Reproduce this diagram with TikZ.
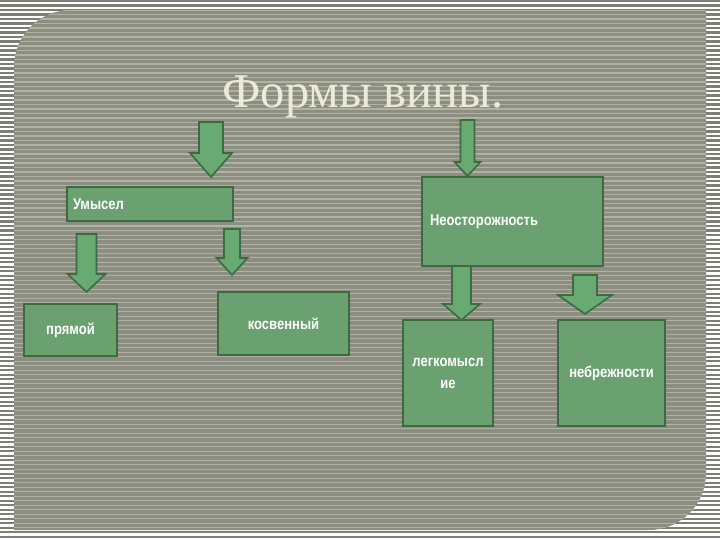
\documentclass[tikz,border=0pt]{standalone}
\usepackage{fontspec}
\setmainfont{Liberation Serif}
\newfontfamily\boxfont[FakeStretch=0.84]{Liberation Sans Bold}
\definecolor{stripedark}{HTML}{7E7F74}
\definecolor{panelgray}{HTML}{8D8E82}
\definecolor{panellight}{HTML}{B2B2A4}
\definecolor{boxgreen}{HTML}{6BA070}
\definecolor{boxedge}{HTML}{3C6A42}
\definecolor{arrgreen}{HTML}{69AA72}
\definecolor{titlecol}{HTML}{ECEBDA}
% block arrow: centre x, top, start of head, tip, half shaft, half head
\newcommand{\blockdown}[6]{%
  \filldraw[arrgreen, draw=boxedge, line width=1.6, line join=miter]
    (#1-#5,#2) -- (#1+#5,#2) -- (#1+#5,#3) -- (#1+#6,#3) --
    (#1,#4) -- (#1-#6,#3) -- (#1-#5,#3) -- cycle;
}
\begin{document}
\begin{tikzpicture}[x=1pt, y=-1pt,
    box/.style={draw=boxedge, fill=boxgreen, line width=2,
      font=\boxfont\fontsize{15.5}{22}\selectfont, text=white, inner sep=0}]
  \useasboundingbox (0,0) rectangle (720,540);
  % Outer stripes
  \fill[white] (0,0) rectangle (720,540);
  \foreach \i in {0,...,119} {
    \fill[stripedark] (0,\i*4.5) rectangle (720,\i*4.5+2.3);
  }
  % Inner panel
  \begin{scope}
    \clip (14,67) arc[start angle=180, end angle=270, radius=57]
      -- (706,10) -- (706,473) arc[start angle=0, end angle=90, radius=57]
      -- (14,530) -- cycle;
    \fill[panelgray] (0,0) rectangle (720,540);
    \foreach \i in {0,...,119} {
      \fill[panellight] (0,\i*4.5+0.5) rectangle (720,\i*4.5+1.9);
    }
  \end{scope}
  % Title
  \node[font=\fontsize{48.5}{52}\selectfont, text=titlecol, anchor=base]
    (title) at (363,108) {Формы вины.};
  % Boxes
  \node[box, minimum width=166, minimum height=34, text width=154,
    align=left] (umysel) at (150,204) {Умысел};
  \node[box, minimum width=181, minimum height=89, text width=165,
    align=left] (neost) at (512.5,221.5) {Неосторожность};
  \node[box, minimum width=93, minimum height=52] (pryam) at (70.5,330) {прямой};
  \node[box, minimum width=131, minimum height=63] (kosv) at (283.5,323.5) {косвенный};
  \node[box, minimum width=90, minimum height=106, align=center]
    (legk) at (448,373) {легкомысл\\ие};
  \node[box, minimum width=107, minimum height=106] (nebr) at (611.5,373) {небрежности};
  % Arrows
  \blockdown{211}{122}{153}{177}{12}{21}
  \blockdown{467.5}{120}{162}{176}{7}{13}
  \blockdown{86.5}{234}{274}{292}{10}{19}
  \blockdown{232}{229}{258}{275}{8}{15.5}
  \blockdown{461.5}{266}{304}{320}{9.5}{18.5}
  \blockdown{585}{275}{295}{314}{12}{27}
\end{tikzpicture}
\end{document}
